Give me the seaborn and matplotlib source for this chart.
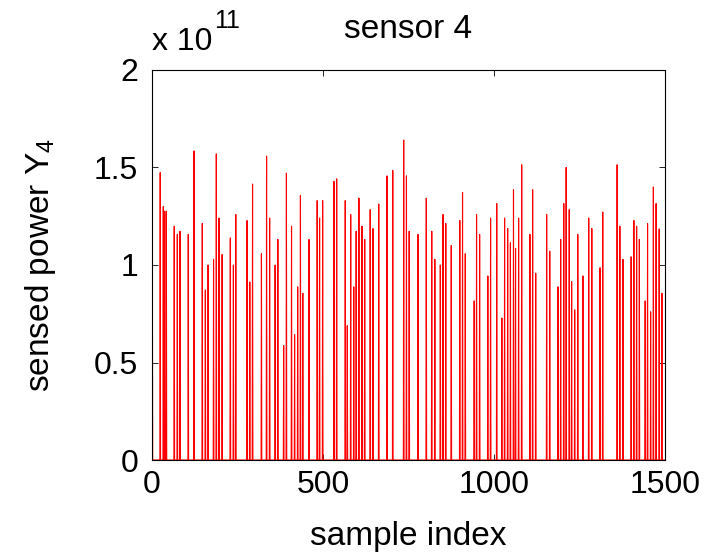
import numpy as np
import pandas as pd
import matplotlib
matplotlib.use("Agg")
import matplotlib.pyplot as plt
import seaborn as sns

# ---- data (power in units of 1e11) ----
n_samples = 1500
spike_index = [1, 24, 33, 37, 42, 65, 74, 82, 106, 123, 147, 156, 164, 180, 188,
               196, 205, 229, 238, 245, 278, 286, 294, 320, 335, 344, 360, 368,
               385, 393, 408, 417, 426, 434, 441, 459, 483, 490, 499, 532, 540,
               565, 571, 581, 590, 597, 605, 614, 622, 638, 646, 663, 687, 704,
               736, 744, 752, 778, 802, 818, 827, 843, 851, 859, 875, 900, 908,
               916, 942, 949, 958, 982, 990, 1008, 1023, 1031, 1040, 1048, 1057,
               1063, 1072, 1081, 1105, 1113, 1122, 1154, 1163, 1187, 1195, 1204,
               1211, 1220, 1227, 1236, 1245, 1260, 1277, 1286, 1310, 1318, 1360,
               1368, 1377, 1401, 1409, 1417, 1425, 1442, 1449, 1458, 1466, 1474,
               1483, 1491]
spike_power = [0.944, 1.474, 1.30, 1.276, 1.276, 1.199, 1.157, 1.173, 1.157, 1.585,
               1.213, 0.872, 1.0, 1.029, 1.570, 1.241, 1.054, 1.139, 1.0, 1.259,
               1.228, 0.913, 1.415, 1.058, 1.559, 1.241, 1.0, 1.131, 0.587, 1.471,
               1.199, 0.643, 0.888, 1.357, 0.855, 1.131, 1.330, 1.241, 1.330, 1.429,
               1.442, 1.330, 0.689, 1.259, 0.888, 1.173, 1.343, 1.199, 1.131, 1.284,
               1.187, 1.313, 1.457, 1.485, 1.641, 1.457, 1.173, 1.157, 1.343, 1.173,
               1.029, 1.0, 1.259, 1.213, 1.100, 1.228, 1.372, 1.058, 0.816, 1.259,
               1.157, 0.944, 1.241, 1.315, 0.728, 1.241, 1.187, 1.114, 1.386, 1.085,
               1.241, 1.514, 1.157, 1.386, 0.958, 1.259, 1.071, 0.888, 1.131, 1.315,
               1.500, 1.284, 0.915, 0.770, 1.157, 0.944, 1.241, 1.187, 0.986, 1.272,
               1.514, 1.199, 1.029, 1.042, 1.228, 1.199, 1.131, 0.816, 1.213, 0.760,
               1.400, 1.315, 1.185, 0.855]
x_ticks = [0, 500, 1000, 1500]
y_ticks = [0, 0.5, 1, 1.5, 2]
y_tick_labels = ["0", "0.5", "1", "1.5", "2"]

sample = np.arange(1, n_samples + 1)
power = np.zeros(n_samples)
power[np.array(spike_index) - 1] = spike_power
df = pd.DataFrame({"sample": sample, "power": power})

# ---- style ----
sns.set_style("ticks")
plt.rcParams["font.family"] = ["Liberation Sans", "DejaVu Sans"]
plt.rcParams["mathtext.fontset"] = "custom"
plt.rcParams["mathtext.rm"] = "Liberation Sans"
plt.rcParams["mathtext.it"] = "Liberation Sans"
plt.rcParams["mathtext.default"] = "regular"
plt.rcParams["text.color"] = "black"
plt.rcParams["axes.labelcolor"] = "black"
plt.rcParams["xtick.color"] = "black"
plt.rcParams["ytick.color"] = "black"

W, H = 708, 555
fig = plt.figure(figsize=(W / 100, H / 100), dpi=100)
ax = fig.add_axes([152 / W, 1 - 460 / H, 513 / W, 390 / H])

sns.lineplot(data=df, x="sample", y="power", ax=ax, color="#ff0000",
             linewidth=0.8, estimator=None, sort=False, legend=False)

ax.set_xlim(0, 1500)
ax.set_ylim(0, 2)
ax.set_xticks(x_ticks)
ax.set_xticklabels([str(t) for t in x_ticks])
ax.set_yticks(y_ticks)
ax.set_yticklabels(y_tick_labels)
ax.tick_params(direction="in", top=True, right=True, length=4, width=0.6,
               labelsize=23, colors="black")
ax.tick_params(axis="x", pad=7)
ax.tick_params(axis="y", pad=10)
for s in ax.spines.values():
    s.set_linewidth(0.8)
    s.set_color("black")
    s.set_visible(True)

ax.set_xlabel("sample index", fontsize=24, labelpad=15, color="black")
ax.set_ylabel("sensed power Y$_4$", fontsize=24, labelpad=26, color="black")

fig.text(408 / W, 1 - 38 / H, "sensor 4", ha="center", va="baseline",
         fontsize=24, color="black")
fig.text(152 / W, 1 - 50 / H, "x 10", ha="left", va="baseline",
         fontsize=23, color="black")
fig.text(214 / W, 1 - 28 / H, "11", ha="left", va="baseline",
         fontsize=18, color="black")

fig.savefig("out.png", dpi=100)
